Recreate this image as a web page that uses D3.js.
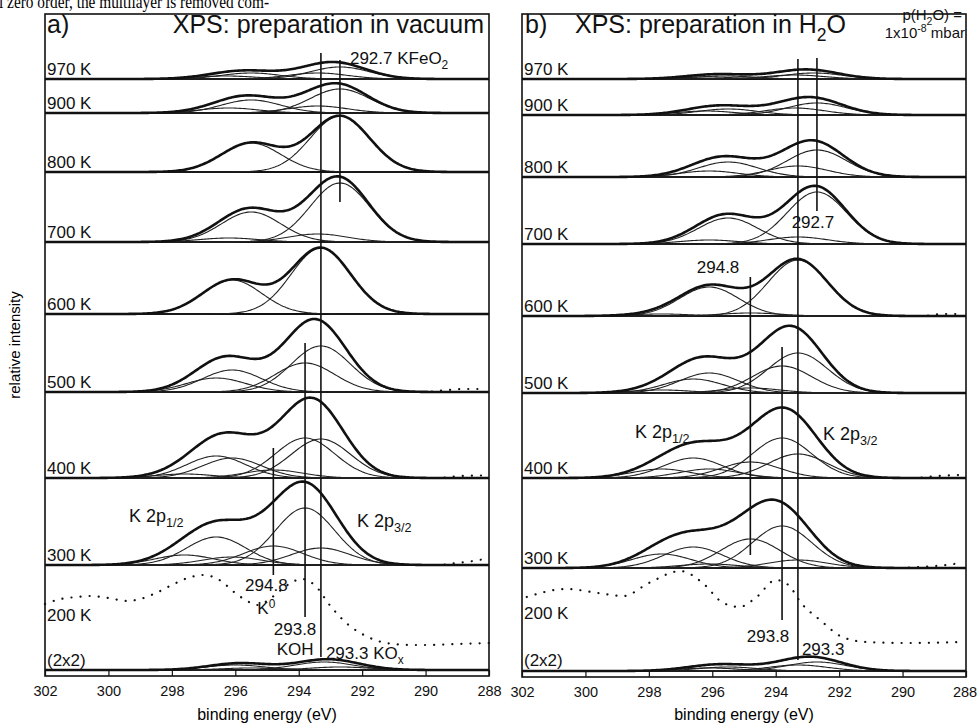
<!DOCTYPE html>
<html lang="en">
<head>
<meta charset="UTF-8">
<title>K 2p XPS spectra</title>
<script src="https://d3js.org/d3.v7.min.js"></script>
<style>
  body { margin: 0; background: #fff; }
  svg { display: block; font-family: Arial, "Liberation Sans", Helvetica, sans-serif; }
  .sep { stroke: #111; stroke-width: 2.2; }
  .frame { fill: none; stroke: #111; stroke-width: 1.6; }
  .fit { fill: none; stroke: #111; stroke-width: 2.6; stroke-linejoin: round; }
  .comp { fill: none; stroke: #222; stroke-width: 1.1; }
  .marker { stroke: #111; stroke-width: 1.6; }
  .dots { fill: none; stroke: #111; stroke-width: 2.2; stroke-linecap: round; stroke-dasharray: 0.1 9; }
  .lbl { font-size: 17px; fill: #111; }
  .tick text { font-size: 14.5px; fill: #111; font-family: Arial, "Liberation Sans", sans-serif; }
  .tick line { stroke: #111; stroke-width: 1.2; }
</style>
</head>
<body>
<svg id="chart" width="978" height="723"></svg>
<script>
// ---------- data ----------
const energyTicks = [302, 300, 298, 296, 294, 292, 290, 288];
const rowLabels = ["970 K", "900 K", "800 K", "700 K", "600 K", "500 K", "400 K", "300 K", "(2x2)"];
const fwhm = 2.2; // eV, fitted component width

// fitted components per row, [binding energy (eV), height (a.u.)]
const peaksVacuum = [
  [[292.7, 12], [293.4, 6], [295.5, 6], [296.3, 3]],
  [[292.7, 24], [293.4, 7], [295.5, 13], [296.2, 5]],
  [[292.7, 56], [295.5, 29]],
  [[292.7, 59], [293.4, 8], [295.5, 30], [296.2, 4]],
  [[293.3, 66], [296.1, 34]],
  [[293.3, 46], [293.8, 29], [296.1, 22], [296.6, 14]],
  [[293.3, 39], [293.8, 40], [294.8, 8], [296.1, 20], [296.6, 22], [297.6, 4]],
  [[293.3, 17], [293.8, 57], [294.8, 19], [296.1, 8], [296.6, 28], [297.6, 10]],
  [[292.7, 3], [293.2, 8], [295.5, 2], [296.0, 5]]
];
const peaksWater = [
  [[292.8, 6], [293.4, 4], [295.6, 3], [296.2, 2]],
  [[292.7, 12], [293.4, 7], [295.5, 6], [296.2, 4]],
  [[292.7, 27], [293.3, 11], [295.5, 15], [296.1, 6]],
  [[292.7, 52], [293.3, 7], [295.5, 26], [296.1, 4]],
  [[293.3, 56], [294.8, 3], [296.1, 29], [297.6, 2]],
  [[293.3, 40], [293.8, 27], [294.8, 5], [296.1, 20], [296.6, 14], [297.6, 3]],
  [[293.3, 24], [293.8, 40], [294.8, 16], [296.1, 9], [296.6, 20], [297.6, 9]],
  [[293.3, 8], [293.8, 42], [294.8, 29], [296.1, 4], [296.6, 21], [297.6, 14]],
  [[292.7, 9], [293.3, 6], [295.5, 4], [296.1, 3]]
];

// 200 K raw spectra (dotted), [binding energy (eV), intensity (a.u.)]
const spec200Vacuum = [
  [302.0, 66], [301.5, 71], [301.0, 73], [300.6, 74], [300.0, 72], [299.4, 69],
  [299.0, 71], [298.5, 77], [298.0, 85], [297.5, 92], [297.0, 95], [296.5, 90],
  [296.0, 77], [295.5, 67], [295.3, 65], [295.0, 69], [294.6, 79], [294.2, 88],
  [293.9, 91], [293.5, 85], [293.0, 64], [292.5, 47], [292.0, 36], [291.5, 29],
  [291.0, 26], [290.5, 25], [290.0, 25], [289.0, 26], [288.0, 27]
];
const spec200Water = [
  [301.85, 74], [300.6, 82], [299.6, 78], [298.8, 75], [298.0, 88], [297.0, 100],
  [296.3, 88], [295.7, 69], [295.15, 64], [294.6, 74], [294.0, 91], [293.6, 86],
  [293.2, 68], [292.6, 51], [291.9, 34], [291.15, 29], [289.9, 28], [288.1, 29]
];
// raw data rising past the fit at the low-energy end of some spectra
const tail300Vacuum = [[289.4, 0.5], [289.0, 2], [288.6, 3.5], [288.2, 5.5], [288.0, 6]];
const tail500Vacuum = [[289.8, 0.5], [289.3, 2], [288.8, 3], [288.2, 3]];
const tail400Vacuum = [[289.4, 0.5], [288.9, 2], [288.2, 2.5]];
const tail300Water = [[289.8, 0.5], [289.2, 1.5], [288.6, 3], [288.1, 5.5]];
const tail400Water = [[289.4, 0.5], [288.9, 2], [288.2, 3]];
const tail600Water = [[289.2, 0.5], [288.7, 2], [288.2, 2]];

// ---------- layout ----------
const svg = d3.select("#chart");
const sigma = fwhm / 2.3548;
const gauss = (e, c, h) => h * Math.exp(-((e - c) ** 2) / (2 * sigma * sigma));
const grid = d3.range(288, 302.0001, 0.05);
const yUnit = d3.scaleLinear().domain([0, 100]).range([0, 100]);

const panels = [
  { left: 45, right: 489, top: 14, bottom: 676,
    lines: [79, 113, 172, 242, 314, 392, 478, 565, 670], label200: 621, label2x2: 666,
    peaks: peaksVacuum, spec200: spec200Vacuum,
    tails: [[7, tail300Vacuum], [5, tail500Vacuum], [6, tail400Vacuum]],
    markers: [[293.3, 53, 657], [292.7, 60, 202], [293.8, 343, 617], [294.8, 448, 575]] },
  { left: 522, right: 966, top: 14, bottom: 677,
    lines: [79, 115, 177, 244, 316, 393, 478, 568, 671], label200: 619, label2x2: 666,
    peaks: peaksWater, spec200: spec200Water,
    tails: [[7, tail300Water], [6, tail400Water], [4, tail600Water]],
    markers: [[293.3, 59, 660], [292.7, 58, 211], [294.8, 277, 555], [293.8, 347, 620]] }
];

panels.forEach((p, pi) => {
  const x = d3.scaleLinear().domain([302, 288]).range([p.left, p.right]);
  p.x = x;
  const g = svg.append("g");

  // row separators (spectrum baselines)
  g.selectAll("line.sep").data(p.lines).join("line")
    .attr("class", "sep")
    .attr("x1", p.left).attr("x2", p.right)
    .attr("y1", d => d).attr("y2", d => d);

  // fitted spectra: thin components, thick sum
  p.peaks.forEach((comps, ri) => {
    const base = p.lines[ri];
    const line = d3.line().x(e => x(e));
    comps.forEach(c => {
      g.append("path").attr("class", "comp")
        .attr("d", line.y(e => base - yUnit(gauss(e, c[0], c[1])))(grid));
    });
    g.append("path").attr("class", "fit")
      .attr("d", line.y(e => base - yUnit(d3.sum(comps, c => gauss(e, c[0], c[1]))))(grid));
    g.append("text").attr("class", "lbl")
      .attr("x", p.left + 2)
      .attr("y", ri === 8 ? p.label2x2 : base - 4)
      .text(rowLabels[ri]);
  });

  // 200 K raw data, dotted
  const base200 = p.lines[8];
  g.append("path").attr("class", "dots")
    .attr("d", d3.line().x(d => x(d[0])).y(d => base200 - yUnit(d[1])).curve(d3.curveMonotoneX)(p.spec200));
  g.append("text").attr("class", "lbl").attr("x", p.left + 2).attr("y", p.label200).text("200 K");

  // raw data tails
  p.tails.forEach(([ri, pts]) => {
    g.append("path").attr("class", "dots")
      .attr("d", d3.line().x(d => x(d[0])).y(d => p.lines[ri] - yUnit(d[1])).curve(d3.curveMonotoneX)(pts));
  });

  // marker lines
  g.selectAll("line.marker").data(p.markers).join("line")
    .attr("class", "marker")
    .attr("x1", d => x(d[0])).attr("x2", d => x(d[0]))
    .attr("y1", d => d[1]).attr("y2", d => d[2]);

  // frame
  g.append("rect").attr("class", "frame")
    .attr("x", p.left).attr("y", p.top)
    .attr("width", p.right - p.left).attr("height", p.bottom - p.top);

  // bottom axis
  const axis = g.append("g")
    .attr("transform", `translate(0,${p.bottom})`)
    .call(d3.axisBottom(x).tickValues(energyTicks).tickFormat(d3.format("d"))
      .tickSizeInner(-6).tickSizeOuter(0).tickPadding(10));
  axis.select(".domain").remove();
  axis.attr("font-size", null);
  // keep the last label of the right panel inside the page
  if (pi === 1) axis.selectAll(".tick text").filter(d => d === 288).attr("dx", -1.5);

  g.append("text")
    .attr("x", (p.left + p.right) / 2).attr("y", 720)
    .attr("text-anchor", "middle").style("font-size", "16px")
    .text("binding energy (eV)");
});

// ---------- annotations ----------
const [pa, pb] = panels;
const xa = pa.x, xb = pb.x;

// parts: plain strings, or [text, "sub" | "sup"]
function label(x, y, parts, opts = {}) {
  const size = opts.size || 17;
  const t = svg.append("text").attr("class", "lbl").attr("x", x).attr("y", y)
    .attr("text-anchor", opts.anchor || "start")
    .style("font-size", size + "px");
  let offset = 0;
  parts.forEach(part => {
    const small = typeof part !== "string";
    const txt = small ? part[0] : part;
    const target = !small ? 0 : (part[1] === "sub" ? 0.3 * size : -0.38 * size);
    const ts = t.append("tspan").attr("dy", target - offset).text(txt);
    ts.style("font-size", (small ? 0.7 * size : size) + "px");
    offset = target;
  });
  return t;
}

// panel titles
label(47, 33, ["a)"], { size: 25 });
label(484, 33, ["XPS: preparation in vacuum"], { size: 25, anchor: "end" });
label(525, 33, ["b)"], { size: 25 });
label(575, 33, ["XPS: preparation in H", ["2", "sub"], "O"], { size: 25 });
label(962, 20, ["p(H", ["2", "sub"], "O) ="], { size: 15, anchor: "end" });
label(965, 38, ["1x10", ["-8", "sup"], " mbar"], { size: 15, anchor: "end" });

// panel a markers
label(xa(292.7) + 10, 64, ["292.7 KFeO", ["2", "sub"]]);
label(xa(294.8) - 7, 591, ["294.8"], { anchor: "middle" });
label(xa(294.8) - 16, 614, ["K", ["0", "sup"]]);
label(xa(293.8) - 10, 635, ["293.8"], { anchor: "middle" });
label(xa(293.8) - 10, 655, ["KOH"], { anchor: "middle" });
label(xa(293.3) + 5, 659, ["293.3 KO", ["x", "sub"]]);
label(129, 522, ["K 2p", ["1/2", "sub"]], { size: 18 });
label(357, 527, ["K 2p", ["3/2", "sub"]], { size: 18 });

// panel b markers
label(xb(292.7) - 4, 228, ["292.7"], { anchor: "middle" });
label(xb(294.8) - 11, 273, ["294.8"], { anchor: "end" });
label(xb(293.8) - 14, 642, ["293.8"], { anchor: "middle" });
label(xb(293.3) + 4, 655, ["293.3"]);
label(635, 438, ["K 2p", ["1/2", "sub"]], { size: 18 });
label(823, 440, ["K 2p", ["3/2", "sub"]], { size: 18 });

// y label
svg.append("text")
  .attr("transform", "translate(20,345) rotate(-90)")
  .attr("text-anchor", "middle").style("font-size", "15px")
  .text("relative intensity");

// clipped running text of the page above the figure
svg.append("text")
  .attr("x", -1).attr("y", 8)
  .attr("textLength", 270).attr("lengthAdjust", "spacingAndGlyphs")
  .style("font-family", "'Liberation Serif', 'Times New Roman', serif")
  .style("font-size", "18px")
  .text("l zero order, the multilayer is removed com-");
</script>
</body>
</html>
